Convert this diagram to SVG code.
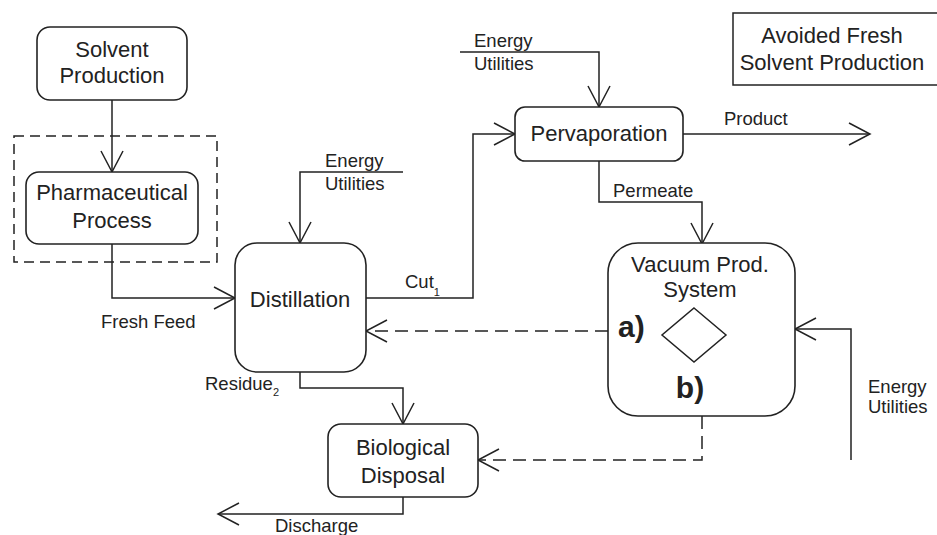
<svg xmlns="http://www.w3.org/2000/svg" width="937" height="535" viewBox="0 0 937 535">
<defs>
<marker id="arr" markerUnits="userSpaceOnUse" markerWidth="26" markerHeight="28" refX="23" refY="13" orient="auto">
<path d="M2,2 L23,13 L2,24" fill="none" stroke="#222" stroke-width="1.5"/>
</marker>
<style>
.box{fill:#fff;stroke:#222;stroke-width:1.6}
.ln{fill:none;stroke:#222;stroke-width:1.5}
.dash{fill:none;stroke:#222;stroke-width:1.5;stroke-dasharray:13,7}
text{font-family:"Liberation Sans",Arial,sans-serif;fill:#222}
.n{font-size:22px;text-anchor:middle}
.l{font-size:18.5px}
.b{font-size:30px;font-weight:bold}
.s{font-size:11px}
</style>
</defs>
<rect width="937" height="535" fill="#fff"/>
<g id="pharma-boundary">
<rect x="14" y="136" width="203" height="126" fill="none" stroke="#222" stroke-width="1.5" stroke-dasharray="10,6"/>
</g>
<g id="connectors">
<path class="ln" d="M112,100 V172" marker-end="url(#arr)"/>
<path class="ln" d="M112,244 V298 H235" marker-end="url(#arr)"/>
<path class="ln" d="M403,172 H300 V243" marker-end="url(#arr)"/>
<path class="ln" d="M366,298 H473 V134 H515" marker-end="url(#arr)"/>
<path class="ln" d="M460,52 H599 V107" marker-end="url(#arr)"/>
<path class="ln" d="M683,134 H870" marker-end="url(#arr)"/>
<path class="ln" d="M599,161 V202 H702 V244" marker-end="url(#arr)"/>
<path class="ln" d="M851,460 V329 H795" marker-end="url(#arr)"/>
<path class="dash" d="M608,331 H366" marker-end="url(#arr)"/>
<path class="dash" d="M702,416 V460 H478" marker-end="url(#arr)"/>
<path class="ln" d="M300,372 V388 H403 V424" marker-end="url(#arr)"/>
<path class="ln" d="M403,497 V514 H218" marker-end="url(#arr)"/>
</g>
<g id="labels">
<text class="l" x="325" y="167">Energy</text>
<text class="l" x="325" y="190">Utilities</text>
<text class="l" x="474" y="47">Energy</text>
<text class="l" x="474" y="70">Utilities</text>
<text class="l" x="868" y="393">Energy</text>
<text class="l" x="868" y="413">Utilities</text>
<text class="l" x="101" y="328">Fresh Feed</text>
<text class="l" x="405" y="288">Cut<tspan class="s" dy="8">1</tspan></text>
<text class="l" x="724" y="125">Product</text>
<text class="l" x="613" y="197">Permeate</text>
<text class="l" x="205" y="390">Residue<tspan class="s" dy="6">2</tspan></text>
<text class="l" x="275" y="532">Discharge</text>
</g>
<g id="solvent-production">
<rect class="box" x="37" y="27" width="150" height="73" rx="13"/>
<text class="n" x="112" y="57">Solvent</text>
<text class="n" x="112" y="83">Production</text>
</g>
<g id="pharmaceutical-process">
<rect class="box" x="26" y="172" width="172" height="72" rx="13"/>
<text class="n" x="112" y="200">Pharmaceutical</text>
<text class="n" x="112" y="228">Process</text>
</g>
<g id="distillation">
<rect class="box" x="235" y="243" width="131" height="129" rx="22"/>
<text class="n" x="300" y="307">Distillation</text>
</g>
<g id="pervaporation">
<rect class="box" x="515" y="107" width="168" height="54" rx="10"/>
<text class="n" x="599" y="141">Pervaporation</text>
</g>
<g id="avoided-fresh-solvent-production">
<rect x="733" y="13" width="210" height="72" fill="#fff" stroke="#222" stroke-width="1.5"/>
<text class="n" x="832" y="43">Avoided Fresh</text>
<text class="n" x="832" y="70">Solvent Production</text>
</g>
<g id="vacuum-prod-system">
<rect class="box" x="608" y="243" width="187" height="173" rx="30"/>
<text class="n" x="700" y="272">Vacuum Prod.</text>
<text class="n" x="700" y="297">System</text>
<text class="b" x="618" y="337">a)</text>
<polygon points="694,308 726,335 694,362 662,335" fill="none" stroke="#222" stroke-width="1.5"/>
<text class="b" x="690" y="398" text-anchor="middle">b)</text>
</g>
<g id="biological-disposal">
<rect class="box" x="328" y="424" width="150" height="73" rx="13"/>
<text class="n" x="403" y="455">Biological</text>
<text class="n" x="403" y="483">Disposal</text>
</g>
</svg>
